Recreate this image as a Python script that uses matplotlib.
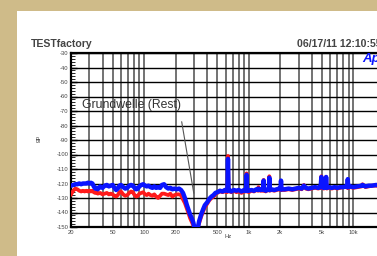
import matplotlib
matplotlib.use("Agg")
import matplotlib.pyplot as plt
from matplotlib.patches import Rectangle
from matplotlib.ticker import FixedLocator, NullFormatter

plt.rcParams['font.family'] = ['Liberation Sans', 'DejaVu Sans']

# frequency axis (Hz) shared by both channels
freqs_hz = [
    20, 21, 22, 23, 24, 25, 26, 27, 28, 29,
    30, 31, 32, 33, 34, 35, 36, 38, 40, 42,
    44, 46, 48, 50, 52, 54, 56, 58, 60, 63,
    66, 69, 72, 75, 78, 81, 84, 87, 90, 94,
    98, 102, 106, 110, 115, 120, 125, 130, 136, 142,
    148, 155, 162, 170, 178, 186, 195, 205, 215, 225,
    235, 245, 255, 265, 275, 285, 295, 305, 315, 325,
    335, 350, 365, 380, 400, 420, 440, 460, 480, 500,
    530, 560, 590, 615, 625, 632, 640, 650, 680, 720,
    760, 800, 850, 900, 935, 945, 952, 960, 970, 1000,
    1060, 1120, 1180, 1225, 1236, 1250, 1290, 1340, 1375, 1385,
    1395, 1450, 1520, 1555, 1570, 1585, 1650, 1750, 1850, 1950,
    2010, 2030, 2050, 2200, 2400, 2600, 2800, 3000, 3200, 3360,
    3500, 3700, 4000, 4300, 4600, 4850, 4935, 5000, 5200, 5400,
    5475, 5550, 5800, 6200, 6600, 7000, 7500, 8000, 8500, 8750,
    8820, 8890, 9300, 10000, 11000, 12000, 12200, 13000, 14000, 15000,
    16500, 18000, 20000,
]

blue_db = [
    -121.5, -121, -120.5, -120.5, -120, -120.5, -120, -120, -120, -119.5,
    -120, -119.5, -120, -122, -123.5, -123, -124, -122, -123, -121.5,
    -121, -122, -121.5, -121, -123, -124.5, -123.5, -121.5, -121, -122.5,
    -123.5, -123, -121.5, -121, -121.5, -123, -124, -123.5, -122, -121,
    -120.5, -121.5, -122, -121.5, -122.5, -123, -122, -123, -122.5, -123,
    -121, -120.5, -122.5, -123.5, -123, -124, -123.5, -124, -123.5, -124.5,
    -126.5, -130, -134.5, -138, -141.5, -144, -147, -152, -152, -151,
    -146, -141.5, -138, -135, -133, -130.5, -129, -128, -126.5, -126,
    -125, -125.5, -124.5, -125, -124.5, -103, -125, -124.5, -125.5, -124.5,
    -125, -124.5, -125.5, -124.5, -125, -124.5, -114, -125, -124.5, -125,
    -124.5, -125, -124, -124.5, -123.5, -124, -124.5, -124, -124.5, -118,
    -124, -125, -124, -124.5, -116, -124.5, -124, -124.5, -124, -123.5,
    -124, -118, -124, -124, -123.5, -124, -123.5, -123, -123.5, -121.5,
    -123, -123.5, -123, -122.5, -123, -122.5, -115.5, -122.5, -123, -122.5,
    -115.5, -123, -122.5, -123, -122.5, -123, -122.5, -122.5, -122, -122.5,
    -117, -122.5, -122, -122.5, -122, -121.5, -121, -122, -121.5, -121.5,
    -121, -121.5, -121,
]

red_db = [
    -127.5, -125, -123.5, -124, -125, -125.5, -125, -125.5, -125, -125.5,
    -125, -125.5, -125, -126, -126.5, -126, -127, -126.5, -127.5, -127,
    -126.5, -127.5, -127, -127.5, -128.5, -129, -128, -126, -125.5, -127.5,
    -128.5, -128, -126.5, -125.5, -126, -128, -129, -128.5, -127, -126.5,
    -126, -127.5, -128, -127, -128, -128.5, -127.5, -129, -130, -128.5,
    -127, -127, -127.5, -128, -127, -129, -128, -127.5, -127.5, -128,
    -131, -133.5, -137, -140.5, -144, -146.5, -149, -151, -152, -150,
    -147.5, -143, -139.5, -136.5, -134, -131.5, -130, -129, -127.5, -126.5,
    -125.5, -126, -125.5, -126, -125, -101, -125.5, -125.5, -126, -125,
    -126, -125.5, -126.5, -125.5, -125.5, -125, -113, -125.5, -125, -126,
    -125, -125.5, -124.5, -125, -122.5, -124.5, -125, -125, -125, -117.5,
    -124.5, -125.5, -124.5, -124, -115, -125, -124.5, -125, -124.5, -124,
    -124.5, -119, -124.5, -124.5, -124, -124.5, -124, -123.5, -124, -121,
    -123.5, -124, -123.5, -123, -123.5, -123, -115, -123, -123.5, -123,
    -115.5, -123.5, -123, -123.5, -123, -123.5, -123, -122.5, -122.5, -123,
    -117.5, -123, -122.5, -123, -122.5, -122, -120.5, -122.5, -122, -121.5,
    -121.5, -122, -121.5,
]

x_major = [20, 50, 100, 200, 500, 1000, 2000, 5000, 10000, 20000]
x_labels = ['20', '50', '100', '200', '500', '1k', '2k', '5k', '10k', '20k']
x_minor = [30, 40, 60, 70, 80, 90, 300, 400, 600, 700, 800, 900,
           3000, 4000, 6000, 7000, 8000, 9000]
y_major = list(range(-150, -29, 10))


def main():
    W, H = 377, 256
    fig = plt.figure(figsize=(W / 100, H / 100), dpi=100, facecolor='#CFBB89')
    fig.patches.append(Rectangle((17 / W, 0), 1, 245 / H, transform=fig.transFigure,
                                 facecolor='white', edgecolor='none', zorder=-10))

    # plot area runs past the right edge of the picture (20k is cut off)
    ax = fig.add_axes([71 / W, 29 / H, (385 - 71) / W, (227 - 53) / H])
    ax.set_zorder(1)
    ax.set_xscale('log')
    ax.set_xlim(20, 20000)
    ax.set_ylim(-150, -30)

    ax.plot(freqs_hz, red_db, color='#FF1A1A', lw=2.7, zorder=3)
    ax.plot(freqs_hz, blue_db, color='#0A14FF', lw=3.2, zorder=4)

    ax.xaxis.set_major_locator(FixedLocator(x_major))
    ax.xaxis.set_minor_locator(FixedLocator(x_minor))
    ax.set_xticklabels(x_labels)
    ax.xaxis.set_minor_formatter(NullFormatter())
    ax.set_yticks(y_major)
    ax.set_yticklabels([str(v) for v in y_major])
    ax.yaxis.set_minor_locator(FixedLocator(range(-150, -29, 2)))

    ax.tick_params(axis='x', which='both', length=0, labelsize=4.2,
                   labelcolor='#444444', pad=2.5)
    ax.tick_params(axis='y', which='major', direction='in', length=4, width=1,
                   labelsize=4.2, labelcolor='#444444', pad=2)
    ax.tick_params(axis='y', which='minor', direction='in', length=3, width=0.6)

    ax.grid(axis='x', which='both', color='#5a5a5a', lw=1.2, zorder=1)
    ax.grid(axis='y', which='major', color='black', lw=1.0, zorder=1)
    ax.set_axisbelow(True)
    for side in ('left', 'top', 'bottom'):
        ax.spines[side].set_linewidth(1.6)
    ax.spines['right'].set_visible(False)

    ax.text(76, -66, 'Grundwelle (Rest)', fontsize=8.8, color='#333333',
            ha='center', va='center', zorder=5)
    ax.annotate('', xy=(301, -128.6), xytext=(226, -75.5),
                arrowprops=dict(arrowstyle='-', color='#555555', lw=0.8), zorder=5)

    fig.text(31 / W, 1 - 44 / H, 'TESTfactory', fontsize=7.6, fontweight='bold',
             color='#444444', ha='left', va='center')
    fig.text(297 / W, 1 - 44 / H, '06/17/11 12:10:55', fontsize=7.6, fontweight='bold',
             color='#444444', ha='left', va='center')
    fig.text(362 / W, 1 - 59 / H, 'Ap', fontsize=9.5, fontweight='bold', style='italic',
             color='#0A14FF', ha='left', va='center', zorder=6)
    fig.text(36 / W, 1 - 140 / H, 'dB', fontsize=4.2, color='#444444', rotation=-90,
             ha='center', va='center')
    fig.text(228 / W, 1 - 237 / H, 'Hz', fontsize=4.2, color='#444444',
             ha='center', va='center')

    fig.savefig('out.png', dpi=100, facecolor=fig.get_facecolor())


if __name__ == "__main__":
    main()
